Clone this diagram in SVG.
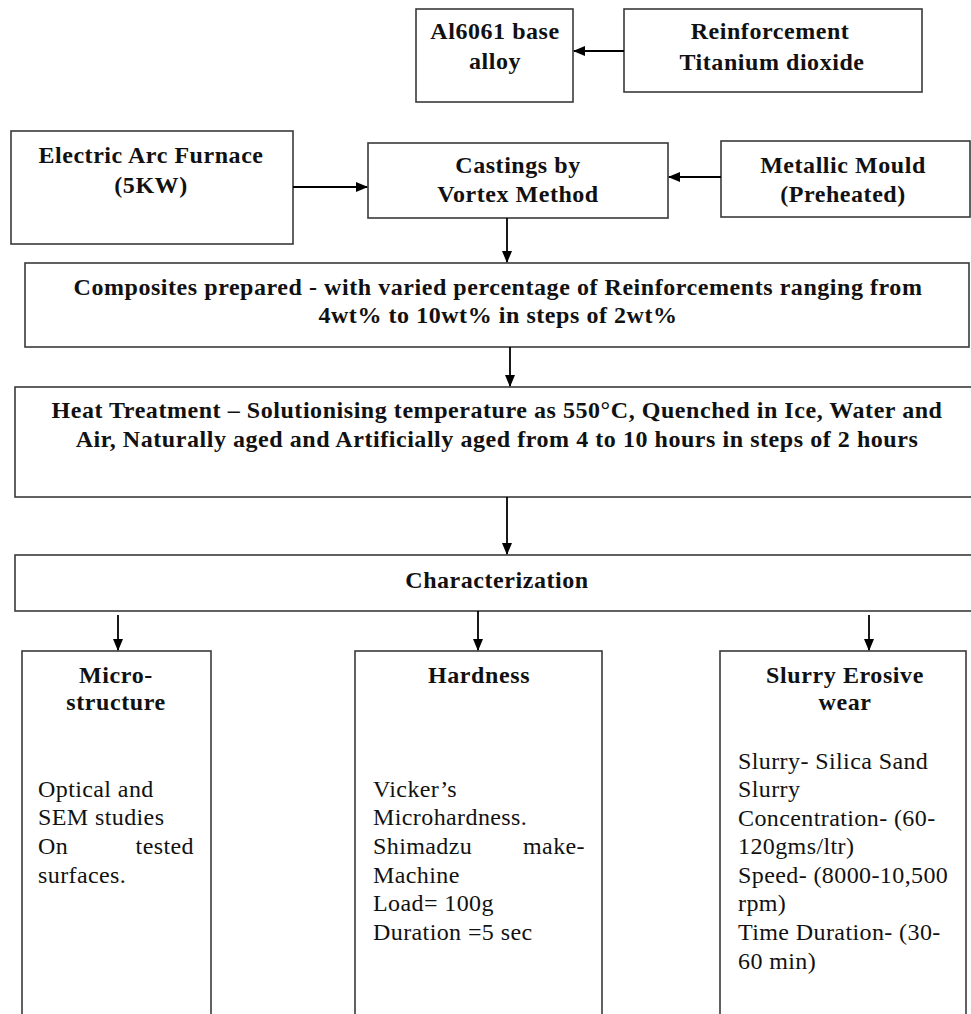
<svg xmlns="http://www.w3.org/2000/svg" width="971" height="1014" viewBox="0 0 971 1014">
<defs>
<marker id="ah" markerWidth="12" markerHeight="10" refX="11" refY="5" orient="auto" markerUnits="userSpaceOnUse">
<path d="M0,0 L12,5 L0,10 Z" fill="#000"/>
</marker>
<style>
.box{fill:#fff;stroke:#3a3a3a;stroke-width:1.6}
.t{font-family:"Liberation Serif","Times New Roman",serif;font-weight:bold;font-size:24px;fill:#111;text-anchor:middle;letter-spacing:0.55px}
.h{font-family:"Liberation Serif","Times New Roman",serif;font-weight:bold;font-size:24px;fill:#111;text-anchor:middle;letter-spacing:0.6px}
.b{font-family:"Liberation Serif","Times New Roman",serif;font-size:24px;fill:#111;letter-spacing:0.4px}
.c{stroke:#000;stroke-width:1.8;fill:none;marker-end:url(#ah)}
</style>
</defs>
<rect width="971" height="1014" fill="#fff"/>

<g id="base-alloy">
<rect class="box" x="416" y="9" width="157" height="93"/>
<text class="t" x="495" y="39" letter-spacing="0.2">Al6061 base</text>
<text class="t" x="495" y="69">alloy</text>
</g>
<g id="reinforcement">
<rect class="box" x="624" y="9" width="298" height="83"/>
<text class="t" x="770" y="39">Reinforcement</text>
<text class="t" x="772" y="70">Titanium dioxide</text>
</g>
<g id="furnace">
<rect class="box" x="11" y="131" width="282" height="113"/>
<text class="t" x="151" y="163">Electric Arc Furnace</text>
<text class="t" x="151" y="193">(5KW)</text>
</g>
<g id="castings">
<rect class="box" x="368" y="143" width="300" height="75"/>
<text class="t" x="518" y="173">Castings by</text>
<text class="t" x="518" y="202">Vortex Method</text>
</g>
<g id="mould">
<rect class="box" x="721" y="141" width="249" height="76"/>
<text class="t" x="843" y="173">Metallic Mould</text>
<text class="t" x="843" y="202">(Preheated)</text>
</g>
<g id="composites">
<rect class="box" x="25" y="263" width="944" height="84"/>
<text class="t" x="498" y="295">Composites prepared - with varied percentage of Reinforcements ranging from</text>
<text class="t" x="498" y="323">4wt% to 10wt% in steps of 2wt%</text>
</g>
<g id="heat-treatment">
<rect class="box" x="15" y="387" width="970" height="110"/>
<text class="t" x="497" y="418">Heat Treatment – Solutionising temperature as 550°C, Quenched in Ice, Water and</text>
<text class="t" x="497" y="447">Air, Naturally aged and Artificially aged from 4 to 10 hours in steps of 2 hours</text>
</g>
<g id="characterization">
<rect class="box" x="15" y="555" width="970" height="56"/>
<text class="t" x="497" y="588">Characterization</text>
</g>
<g id="microstructure">
<rect class="box" x="22" y="651" width="189" height="400"/>
<text class="h" x="116" y="683">Micro-</text>
<text class="h" x="116" y="710">structure</text>
<text class="b" x="38" y="797">Optical and</text>
<text class="b" x="38" y="825">SEM studies</text>
<text class="b" x="38" y="854">On</text>
<text class="b" x="194" y="854" text-anchor="end">tested</text>
<text class="b" x="38" y="883">surfaces.</text>
</g>
<g id="hardness">
<rect class="box" x="355" y="651" width="247" height="400"/>
<text class="h" x="479" y="683">Hardness</text>
<text class="b" x="373" y="797">Vicker’s</text>
<text class="b" x="373" y="825">Microhardness.</text>
<text class="b" x="373" y="854">Shimadzu</text>
<text class="b" x="585" y="854" text-anchor="end">make-</text>
<text class="b" x="373" y="883">Machine</text>
<text class="b" x="373" y="911">Load= 100g</text>
<text class="b" x="373" y="940">Duration =5 sec</text>
</g>
<g id="slurry-erosive-wear">
<rect class="box" x="720" y="651" width="246" height="400"/>
<text class="h" x="845" y="683" letter-spacing="0.2">Slurry Erosive</text>
<text class="h" x="845" y="710">wear</text>
<text class="b" x="738" y="769">Slurry- Silica Sand</text>
<text class="b" x="738" y="797">Slurry</text>
<text class="b" x="738" y="826">Concentration- (60-</text>
<text class="b" x="738" y="854">120gms/ltr)</text>
<text class="b" x="738" y="883">Speed- (8000-10,500</text>
<text class="b" x="738" y="911">rpm)</text>
<text class="b" x="738" y="940">Time Duration- (30-</text>
<text class="b" x="738" y="969">60 min)</text>
</g>

<g id="connectors">
<line class="c" x1="624" y1="51" x2="574" y2="51"/>
<line class="c" x1="293" y1="187" x2="367" y2="187"/>
<line class="c" x1="721" y1="177" x2="669" y2="177"/>
<line class="c" x1="507" y1="218" x2="507" y2="262"/>
<line class="c" x1="510" y1="347" x2="510" y2="386"/>
<line class="c" x1="507" y1="497" x2="507" y2="554"/>
<line class="c" x1="118" y1="615" x2="118" y2="650"/>
<line class="c" x1="478" y1="611" x2="478" y2="650"/>
<line class="c" x1="869" y1="615" x2="869" y2="650"/>
</g>
</svg>
